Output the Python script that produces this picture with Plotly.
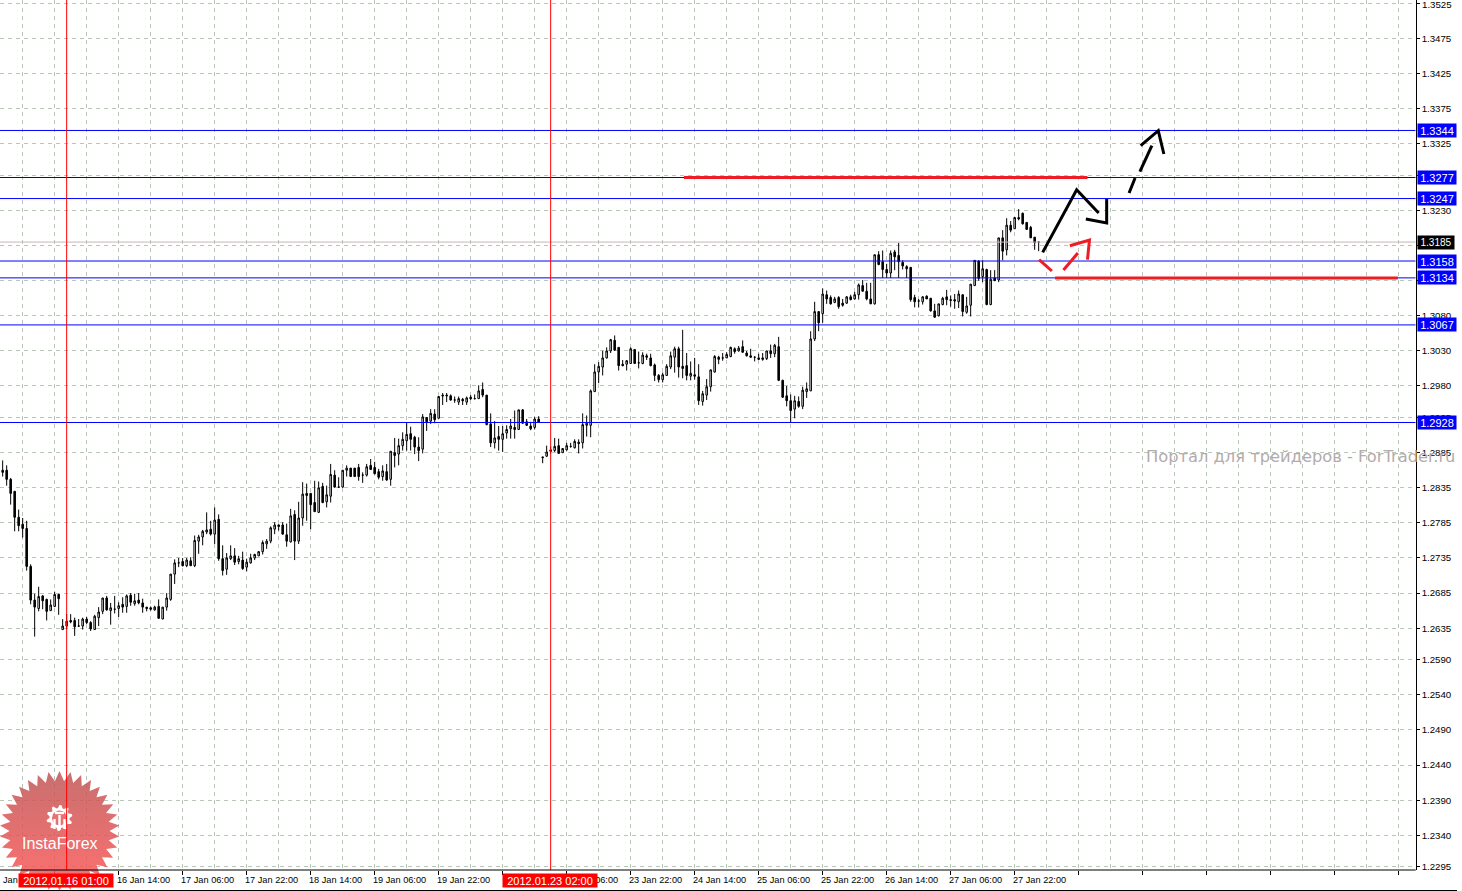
import math
import plotly.graph_objects as go

W, H = 1462, 891
AXIS_R, AXIS_B = 1415.7, 870.0

# ---- candle values, in 1/10000 of the price ----
opens = [
12860,12860,12847,12830,12793,12783,12777,12723,12675,12663,
12681,12676,12660,12666,12683,12633,12638,12646,12646,12638,
12638,12648,12643,12633,12650,12659,12678,12660,12662,12663,
12669,12666,12682,12670,12675,12671,12665,12664,12661,12666,
12648,12665,12676,12712,12728,12730,12724,12731,12724,12759,
12765,12772,12776,12769,12790,12734,12719,12734,12738,12730,
12732,12722,12728,12735,12738,12744,12755,12759,12776,12782,
12782,12768,12758,12797,12759,12792,12827,12827,12814,12800,
12837,12815,12823,12853,12836,12836,12860,12863,12863,12864,
12853,12853,12867,12864,12858,12851,12858,12847,12885,12883,
12895,12902,12912,12907,12893,12890,12935,12930,12940,12934,
12967,12967,12966,12960,12957,12961,12957,12964,12962,12962,
12975,12967,12926,12899,12908,12904,12913,12919,12921,12918,
12946,12929,12923,12921,12933,12879,12880,12889,12888,12895,
12885,12889,12894,12892,12900,12899,12924,12924,12972,13000,
13007,13020,13030,13045,13035,13011,13011,13012,13032,13013,
13012,13023,13020,13010,12995,12989,12995,13007,13021,13033,
13008,13009,12994,12996,12993,12958,12967,12979,13000,13021,
13020,13020,13022,13033,13030,13036,13027,13023,13021,13020,
13020,13019,13030,13026,13036,12988,12966,12959,12947,12958,
12951,12972,12973,13047,13086,13083,13110,13106,13099,13106,
13098,13098,13107,13104,13110,13123,13115,13104,13097,13167,
13157,13146,13141,13171,13166,13156,13150,13149,13106,13101,
13100,13108,13105,13087,13080,13096,13107,13103,13103,13100,
13110,13085,13095,13123,13158,13136,13146,13096,13134,13131,
13191,13174,13209,13204,13220,13226,13213,13206,13192,13185]
highs = [
12874,12867,12849,12830,12804,12792,12788,12726,12684,12694,
12682,12677,12676,12687,12684,12648,12655,12655,12650,12648,
12650,12651,12645,12654,12665,12678,12681,12671,12681,12672,
12679,12683,12685,12684,12685,12677,12665,12666,12667,12676,
12665,12685,12712,12733,12735,12735,12735,12736,12767,12768,
12775,12800,12788,12807,12797,12753,12742,12753,12749,12738,
12744,12734,12741,12741,12745,12760,12762,12780,12786,12783,
12786,12784,12805,12803,12815,12843,12841,12827,12845,12844,
12842,12838,12869,12860,12850,12860,12867,12863,12863,12869,
12857,12869,12876,12872,12862,12867,12869,12887,12906,12905,
12914,12928,12922,12909,12907,12940,12935,12947,12947,12965,
12970,12970,12968,12965,12965,12963,12965,12967,12968,12981,
12985,12967,12941,12930,12923,12923,12924,12933,12945,12946,
12947,12933,12929,12936,12937,12879,12895,12894,12906,12905,
12891,12899,12899,12904,12904,12941,12938,12975,13011,13014,
13030,13035,13047,13052,13035,13017,13017,13035,13032,13029,
13028,13026,13026,13012,12997,12999,13011,13029,13036,13036,
13060,13027,13015,13020,13011,12973,12990,13003,13024,13023,
13027,13028,13036,13035,13037,13045,13030,13033,13022,13026,
13027,13030,13039,13040,13050,12989,12980,12968,12966,12965,
12979,12985,13058,13100,13086,13119,13116,13109,13107,13108,
13104,13108,13110,13114,13126,13131,13127,13127,13167,13172,
13173,13154,13173,13174,13184,13159,13152,13149,13110,13104,
13108,13109,13105,13097,13097,13107,13117,13109,13111,13116,
13110,13107,13125,13159,13159,13159,13147,13145,13145,13191,
13202,13219,13215,13220,13232,13227,13213,13208,13192,13185]
lows = [
12851,12838,12811,12773,12773,12764,12717,12669,12623,12659,
12662,12646,12660,12665,12654,12633,12634,12642,12624,12637,
12633,12641,12631,12633,12638,12655,12660,12640,12656,12651,
12657,12657,12667,12667,12669,12657,12659,12660,12660,12649,
12648,12660,12674,12698,12722,12723,12722,12724,12722,12741,
12753,12769,12767,12755,12731,12710,12711,12732,12725,12726,
12718,12716,12727,12732,12738,12740,12748,12756,12769,12774,
12768,12751,12757,12732,12755,12781,12788,12776,12801,12799,
12813,12807,12814,12835,12835,12835,12851,12851,12851,12845,
12842,12851,12861,12854,12847,12845,12845,12838,12864,12867,
12888,12888,12888,12883,12873,12884,12916,12926,12927,12934,
12953,12957,12959,12956,12953,12953,12953,12960,12961,12962,
12964,12924,12893,12891,12888,12886,12905,12905,12905,12918,
12926,12923,12917,12918,12928,12870,12879,12884,12886,12884,
12885,12888,12892,12891,12884,12891,12908,12907,12972,12984,
12995,13019,13027,13030,13002,13008,13002,13012,13012,13005,
13011,13017,13008,12987,12985,12985,12995,13004,12999,12992,
12991,12988,12988,12989,12953,12952,12960,12972,12999,13011,
13016,13020,13021,13026,13029,13028,13022,13021,13015,13017,
13016,13017,13020,13021,12987,12963,12951,12928,12934,12949,
12947,12963,12973,13044,13058,13070,13097,13096,13098,13090,
13093,13097,13102,13103,13103,13115,13102,13097,13096,13152,
13134,13134,13134,13145,13134,13146,13134,13100,13092,13092,
13096,13104,13086,13077,13079,13095,13095,13093,13090,13091,
13079,13083,13079,13123,13130,13128,13095,13095,13130,13128,
13159,13166,13199,13204,13216,13210,13203,13191,13174,13172]
closes = [
12857,12847,12827,12793,12781,12777,12723,12675,12665,12680,
12674,12659,12668,12683,12677,12638,12645,12644,12637,12638,
12648,12643,12634,12652,12658,12678,12661,12664,12662,12667,
12665,12681,12672,12674,12671,12665,12663,12662,12665,12649,
12665,12678,12712,12728,12728,12724,12732,12724,12760,12765,
12773,12775,12769,12789,12734,12717,12735,12738,12729,12734,
12720,12729,12735,12740,12744,12757,12759,12778,12782,12780,
12769,12759,12795,12759,12792,12826,12824,12811,12801,12835,
12814,12825,12854,12836,12836,12860,12863,12851,12851,12851,
12853,12865,12861,12855,12850,12859,12846,12887,12881,12895,
12904,12911,12904,12893,12888,12936,12929,12941,12932,12965,
12966,12966,12960,12960,12962,12959,12963,12962,12962,12973,
12967,12925,12899,12906,12904,12912,12918,12923,12918,12946,
12927,12924,12919,12933,12928,12878,12886,12887,12894,12884,
12891,12895,12894,12901,12898,12925,12927,12973,13000,13008,
13020,13030,13046,13031,13009,13009,13016,13033,13012,13013,
13024,13021,13009,12995,12989,12996,13008,13023,13033,13007,
13005,12995,12998,12994,12959,12969,12979,13003,13022,13018,
13020,13025,13035,13029,13034,13028,13023,13021,13021,13018,
13018,13030,13026,13038,12988,12964,12959,12945,12959,12951,
12974,12976,13047,13086,13070,13111,13104,13097,13104,13093,
13095,13107,13103,13110,13124,13115,13104,13097,13167,13153,
13146,13141,13169,13164,13157,13151,13147,13103,13100,13101,
13107,13104,13087,13078,13097,13105,13103,13102,13101,13111,
13086,13094,13125,13159,13133,13147,13096,13132,13130,13191,
13172,13209,13202,13220,13218,13211,13203,13191,13184,13185]

# ---- axes ----
price_ticks = [1.3525,1.3475,1.3425,1.3375,1.3325,1.3280,1.3230,1.3180,1.3130,1.3080,1.3030,1.2980,1.2935,
               1.2885,1.2835,1.2785,1.2735,1.2685,1.2635,1.2590,1.2540,1.2490,1.2440,1.2390,1.2340,1.2295]
time_tick_bars = [29,45,61,77,93,109,141,157,173,189,205,221,237,253]
time_tick_text = ["16 Jan 14:00","17 Jan 06:00","17 Jan 22:00","18 Jan 14:00","19 Jan 06:00","19 Jan 22:00",
                  "23 Jan 06:00","23 Jan 22:00","24 Jan 14:00","25 Jan 06:00","25 Jan 22:00",
                  "26 Jan 14:00","27 Jan 06:00","27 Jan 22:00"]
major_bars = list(range(13, 354, 16))
minor_bars = list(range(5, 354, 16))
period_bars = [16, 137]
period_text = ["2012.01.16 01:00", "2012.01.23 02:00"]

# ---- levels ----
blue_levels = [1.3344, 1.3247, 1.3158, 1.3134, 1.3067, 1.2928]
dark_level = 1.3277
last_price = 1.3185
red_bars = [170.3, 271.2, None, 263.1, 348.8]
red_prices = [1.3277, 1.3277, None, 1.3134, 1.3134]

# ---- hand drawn forecast arrows (bar number / price) ----
black_bars = [260.0,268.5,274.0,None,270.8,276.0,276.0,None,281.6,283.1,None,284.3,287.3,None,284.5,288.9,290.3]
black_prices = [1.31703,1.32596,1.32264,None,1.32179,1.32122,1.32464,None,1.32549,1.32763,None,1.32853,1.33223,None,
                1.33223,1.33437,1.33105]
redarrow_bars = [259.1,262.3,None,265.2,268.8,None,266.8,271.7,271.2]
redarrow_prices = [1.31599,1.31438,None,1.31452,1.31694,None,1.31798,1.31880,1.31599]

BAR0_PX, BAR_STEP = 2.67, 4.0
x_range = [(0 - BAR0_PX) / BAR_STEP, (AXIS_R - BAR0_PX) / BAR_STEP]
py2price = lambda y: 1.3375 - (y - 108.7) / 7020.0
y_range = [py2price(AXIS_B), py2price(0)]
FONT = "Liberation Sans"
GRID = "#b8c6b8"

fig = go.Figure()
fig.add_trace(go.Candlestick(
    x=list(range(len(opens))),
    open=[v / 10000 for v in opens], high=[v / 10000 for v in highs],
    low=[v / 10000 for v in lows], close=[v / 10000 for v in closes],
    increasing=dict(fillcolor="#ffffff", line=dict(color="#000000", width=1)),
    decreasing=dict(fillcolor="#000000", line=dict(color="#000000", width=1)),
    whiskerwidth=0, showlegend=False, hoverinfo="skip"))

def level(price, color, width=1):
    fig.add_trace(go.Scatter(x=x_range, y=[price, price], mode="lines", showlegend=False, hoverinfo="skip",
                             line=dict(color=color, width=width)))

level(last_price, "#c4b8b8")
level(dark_level, "#141440")
for p in blue_levels:
    level(p, "#0000ff")

fig.add_trace(go.Scatter(x=red_bars, y=red_prices, mode="lines", showlegend=False, hoverinfo="skip",
                         line=dict(color="#ee1c25", width=3)))
fig.add_trace(go.Scatter(x=black_bars, y=black_prices, mode="lines", showlegend=False, hoverinfo="skip",
                         line=dict(color="#000000", width=3)))
fig.add_trace(go.Scatter(x=redarrow_bars, y=redarrow_prices, mode="lines", showlegend=False, hoverinfo="skip",
                         line=dict(color="#ee1c25", width=3)))

# ---- InstaForex badge on a full-page overlay axis ----
CX, CY, R_OUT, R_IN, SPIKES = 59.5, 831, 60, 50, 34
sx, sy = [], []
for k in range(SPIKES * 2):
    r = R_OUT if k % 2 == 0 else R_IN
    a = math.pi * k / SPIKES
    sx.append(CX + r * math.sin(a)); sy.append(CY - r * math.cos(a))
fig.add_trace(go.Scatter(x=sx + sx[:1], y=sy + sy[:1], xaxis="x2", yaxis="y2", mode="lines", fill="toself",
                         line=dict(width=0), showlegend=False, hoverinfo="skip",
                         fillgradient=dict(type="vertical", colorscale=[[0, "rgba(255,86,86,0.85)"], [1, "rgba(191,86,86,0.85)"]])))
gx, gy = [], []
for k in range(40):
    a = 2 * math.pi * k / 40
    r = 13 if (k // 2) % 2 == 0 else 10
    gx.append(59.5 + r * math.sin(a)); gy.append(818 - r * math.cos(a))
fig.add_trace(go.Scatter(x=gx + gx[:1], y=gy + gy[:1], xaxis="x2", yaxis="y2", mode="lines", fill="toself",
                         fillcolor="#ffffff", line=dict(width=0), showlegend=False, hoverinfo="skip"))
hx, hy = [], []
for k in range(24):
    a = 2 * math.pi * k / 24
    hx.append(59.5 + 7.5 * math.sin(a)); hy.append(818 - 7.5 * math.cos(a))
fig.add_trace(go.Scatter(x=hx + hx[:1], y=hy + hy[:1], xaxis="x2", yaxis="y2", mode="lines", fill="toself",
                         fillcolor="#e87070", line=dict(width=0), showlegend=False, hoverinfo="skip"))
fig.add_trace(go.Scatter(x=[59.5, 59.5, None, 54.5, 54.5, None, 64.5, 64.5, None, 55, 64], y=[815, 830, None, 819, 829, None, 819, 829, None, 813, 813],
                         xaxis="x2", yaxis="y2", mode="lines", line=dict(color="#ffffff", width=2.4),
                         showlegend=False, hoverinfo="skip"))

ann = []
def price_box(price, text, bg, size, w):
    ann.append(dict(xref="paper", yref="y", x=1417 / W, y=price, xanchor="left", yanchor="middle", text=text,
                    showarrow=False, bgcolor=bg, width=w, height=13, borderpad=0, align="center",
                    font=dict(family=FONT, size=size, color="#ffffff")))

ann.append(dict(xref="paper", yref="y", x=1420 / W, y=1.3525, xanchor="left", yanchor="middle", text="1.3525",
                showarrow=False, yshift=-1, font=dict(family=FONT, size=9.7, color="#000000")))
for b, t in zip(time_tick_bars, time_tick_text):
    ann.append(dict(xref="x", yref="paper", x=b, y=1 - 879.5 / H, xanchor="left", yanchor="middle", xshift=-4,
                    text=t, showarrow=False, font=dict(family=FONT, size=9.2, color="#000000")))
ann.append(dict(xref="paper", yref="paper", x=1 / W, y=1 - 879.5 / H, xanchor="left", yanchor="middle",
                text="Jan", showarrow=False, font=dict(family=FONT, size=9.2, color="#000000")))
for b, t in zip(period_bars, period_text):
    ann.append(dict(xref="x", yref="paper", x=b, y=1 - 880.5 / H, xanchor="center", yanchor="middle", text=t,
                    showarrow=False, bgcolor="#ff0000", width=94, height=13, borderpad=0, xshift=-1,
                    font=dict(family=FONT, size=11, color="#ffffff")))
price_box(dark_level, "1.3277", "#0000ff", 11, 38)
for p in blue_levels:
    price_box(p, f"{p:.4f}", "#0000ff", 11, 38)
price_box(last_price, "1.3185", "#000000", 10, 36)
ann.append(dict(xref="paper", yref="paper", x=1144 / W, y=1 - 456.5 / H, xanchor="left", yanchor="middle",
                text="Портал для трейдеров - ForTrader.ru", showarrow=False,
                font=dict(family="DejaVu Sans", size=16.3, color="#b4abab")))
ann.append(dict(xref="paper", yref="paper", x=59.5 / W, y=1 - 843 / H, xanchor="center", yanchor="middle",
                text="InstaForex", showarrow=False, font=dict(family=FONT, size=16, color="#ffffff")))

shapes = []
for b in period_bars:
    shapes.append(dict(type="line", xref="x", yref="paper", x0=b, x1=b, y0=1 - AXIS_B / H, y1=1,
                       line=dict(color="#ff0000", width=1), layer="above"))
shapes.append(dict(type="line", xref="paper", yref="paper", x0=0, x1=AXIS_R / W, y0=1 - AXIS_B / H, y1=1 - AXIS_B / H,
                   line=dict(color="#000000", width=1), layer="above"))
shapes.append(dict(type="line", xref="paper", yref="paper", x0=0, x1=1457 / W, y0=1 - 890.5 / H, y1=1 - 890.5 / H,
                   line=dict(color="#000000", width=1), layer="above"))

fig.update_layout(
    width=W, height=H, margin=dict(l=0, r=0, t=0, b=0, autoexpand=False), template=None,
    paper_bgcolor="#ffffff", plot_bgcolor="rgba(0,0,0,0)", boxgap=0.45, dragmode=False, showlegend=False,
    font=dict(family=FONT, size=10, color="#000000"), annotations=ann, shapes=shapes,
    xaxis=dict(domain=[0, AXIS_R / W], range=x_range, rangeslider=dict(visible=False), anchor="y",
               tickmode="array", tickvals=major_bars, ticktext=[""] * len(major_bars), ticks="outside", ticklen=4,
               tickcolor="#000000", showline=False, zeroline=False, showgrid=True, gridcolor=GRID,
               griddash="4px,4px", gridwidth=1, automargin=False,
               minor=dict(tickmode="array", tickvals=minor_bars, showgrid=True, gridcolor=GRID, griddash="4px,4px",
                          gridwidth=1, ticks="")),
    yaxis=dict(domain=[1 - AXIS_B / H, 1], range=y_range, side="right", anchor="x", tickmode="array",
               tickvals=price_ticks, ticktext=["" if p == 1.3525 else f"{p:.4f}" for p in price_ticks],
               ticks="outside", ticklen=3,
               tickcolor="#000000", showline=True, linecolor="#000000", linewidth=1, mirror=False, zeroline=False,
               showgrid=True, gridcolor=GRID, griddash="4px,4px", gridwidth=1, automargin=False,
               tickfont=dict(family=FONT, size=9.7, color="#000000")),
    xaxis2=dict(domain=[0, 1], range=[0, W], visible=False, fixedrange=True, anchor="y2"),
    yaxis2=dict(domain=[0, 1], range=[H, 0], visible=False, fixedrange=True, anchor="x2"),
)

fig.write_html("out.html", post_script="document.body.style.margin='0';document.body.style.overflow='hidden';",
               config=dict(displayModeBar=False))
